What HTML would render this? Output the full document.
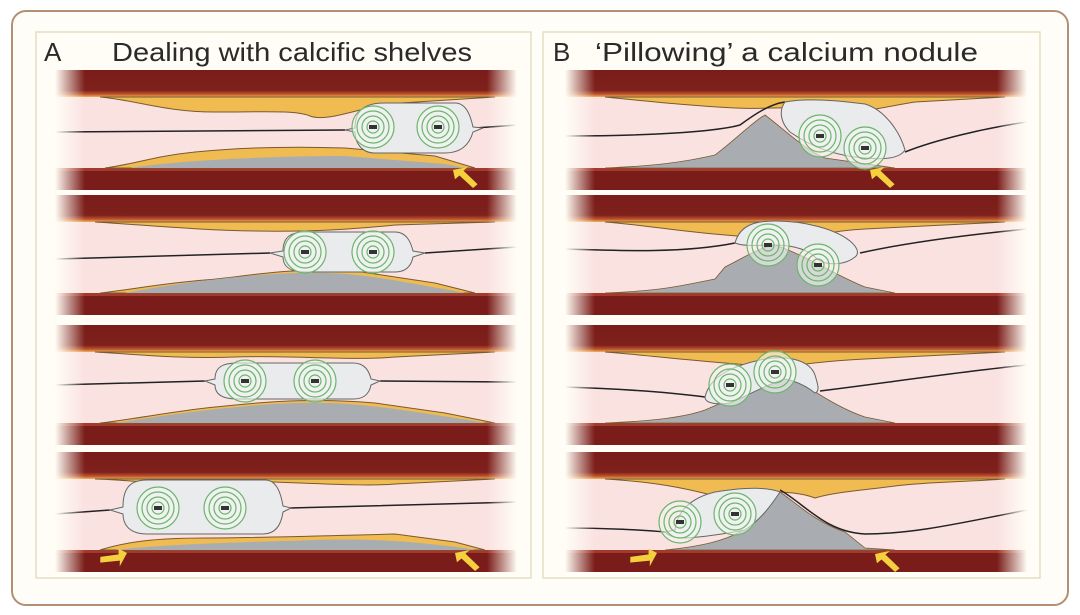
<!DOCTYPE html>
<html><head><meta charset="utf-8"><style>
html,body{margin:0;padding:0;background:#fff;width:1080px;height:615px;overflow:hidden}
svg{display:block}
text{font-family:"Liberation Sans",sans-serif;fill:#2a2a2a}
</style></head><body>
<svg width="1080" height="615" viewBox="0 0 1080 615" xmlns="http://www.w3.org/2000/svg">
<defs>
<linearGradient id="tw" x1="0" y1="0" x2="0" y2="1">
<stop offset="0" stop-color="#7a1c19"/><stop offset="0.75" stop-color="#7e211c"/><stop offset="0.9" stop-color="#c0572e"/><stop offset="1" stop-color="#f0b45a"/></linearGradient>
<linearGradient id="lf" x1="0" y1="0" x2="1" y2="0"><stop offset="0" stop-color="#fffdf5" stop-opacity="1"/><stop offset="1" stop-color="#fffdf5" stop-opacity="0"/></linearGradient>
<linearGradient id="rf" x1="1" y1="0" x2="0" y2="0"><stop offset="0" stop-color="#fffdf5" stop-opacity="1"/><stop offset="1" stop-color="#fffdf5" stop-opacity="0"/></linearGradient>
<symbol id="base" viewBox="0 0 462 120" width="462" height="120" overflow="visible">
<rect x="0" y="0" width="462" height="120" fill="#fae2e1"/>
<rect x="0" y="0" width="462" height="27" fill="url(#tw)"/>
<rect x="0" y="98" width="462" height="22" fill="#7a1c19"/>
<rect x="0" y="98" width="462" height="3" fill="#a33a2c"/>
</symbol>
<symbol id="fade" viewBox="0 0 462 120" width="462" height="120" overflow="visible">
<rect x="0" y="0" width="30" height="120" fill="url(#lf)"/>
<rect x="432" y="0" width="30" height="120" fill="url(#rf)"/>
</symbol>
<g id="rings">
<circle r="21" fill="#f3f6f2" fill-opacity="0.6" stroke="#6cb56a" stroke-width="1.2"/>
<circle r="16" fill="none" stroke="#6cb56a" stroke-width="1.2"/>
<circle r="11" fill="none" stroke="#6cb56a" stroke-width="1.2"/>
<circle r="6" fill="none" stroke="#6cb56a" stroke-width="1.2"/>
<rect x="-4" y="-2" width="8" height="4" fill="#333"/>
</g>
<g id="arrow"><path d="M0,0 L13,-8 L10,-3 L28,5 L25,10 L8,3 L5,8Z" fill="#f4d03f"/></g>
</defs>

<rect x="0" y="0" width="1080" height="615" fill="#fff"/>
<rect x="12" y="11" width="1056" height="594" rx="14" fill="#fffdf8" stroke="#b48f74" stroke-width="2"/>
<rect x="36" y="32" width="495" height="546" fill="#fffdf5" stroke="#ddd8b8" stroke-width="1.2"/>
<rect x="543" y="32" width="497" height="546" fill="#fffdf5" stroke="#ddd8b8" stroke-width="1.2"/>
<text x="44" y="61" font-size="26">A</text>
<text x="112" y="61" font-size="26" textLength="360" lengthAdjust="spacingAndGlyphs">Dealing with calcific shelves</text>
<text x="553" y="61" font-size="26">B</text>
<text x="595" y="61" font-size="26" textLength="383" lengthAdjust="spacingAndGlyphs">‘Pillowing’ a calcium nodule</text>

<!-- A1 -->
<g transform="translate(55,70)">
<use href="#base"/>
<path d="M45,27 C80,30 110,42 160,42 S240,40 255,46 S300,40 330,34 L440,27Z" fill="#f0bb50" stroke="#7a5a30" stroke-width="1"/>
<path d="M50,98 C80,94 100,86 140,82 S230,76 290,78 L380,86 L420,98Z" fill="#f0bb50" stroke="#7a5a30" stroke-width="1"/>
<path d="M75,98 C110,92 200,86 290,86 L390,94 L410,98Z" fill="#a9adb2"/>
<path d="M0,62 L290,60 M420,58 L462,55" stroke="#222" stroke-width="1.5" fill="none"/>
<path d="M290,60 L300,58 C300,40 310,33 330,33 L400,33 C412,33 416,48 418,57 L428,58 L418,62 C414,76 405,83 390,83 L320,83 C306,83 300,72 300,62Z" fill="#e9ebed" stroke="#666" stroke-width="1"/>
<use href="#rings" x="318" y="57"/><use href="#rings" x="383" y="57"/>
<use href="#arrow" transform="translate(398,100) rotate(20)"/>
<use href="#fade"/>
</g>
<!-- A2 -->
<g transform="translate(55,195)">
<use href="#base"/>
<path d="M40,27 C90,30 140,35 200,36 S300,34 340,30 L440,27Z" fill="#f0bb50" stroke="#7a5a30" stroke-width="1"/>
<path d="M45,98 C80,94 110,88 150,85 S230,72 300,76 L380,88 L420,98Z" fill="#f0bb50" stroke="#7a5a30" stroke-width="1"/>
<path d="M70,98 C110,90 180,80 240,78 S330,84 400,96 L410,98Z" fill="#a9adb2"/>
<path d="M0,64 L215,58 M370,58 L462,52" stroke="#222" stroke-width="1.5" fill="none"/>
<path d="M215,58 L228,56 C228,42 236,37 250,37 L340,37 C352,37 356,48 358,56 L370,58 L358,62 C356,72 350,77 340,77 L250,77 C236,77 228,72 228,62Z" fill="#e9ebed" stroke="#666" stroke-width="1"/>
<use href="#rings" x="250" y="57"/><use href="#rings" x="318" y="57"/>
<use href="#fade"/>
</g>
<!-- A3 -->
<g transform="translate(55,325)">
<use href="#base"/>
<path d="M40,27 C90,30 130,34 180,32 S300,36 340,32 L440,27Z" fill="#f0bb50" stroke="#7a5a30" stroke-width="1"/>
<path d="M45,98 C80,94 120,86 160,82 S250,72 320,78 L390,88 L440,98Z" fill="#f0bb50" stroke="#7a5a30" stroke-width="1"/>
<path d="M60,98 C110,90 180,80 240,78 S340,84 420,96 L430,98Z" fill="#a9adb2"/>
<path d="M0,60 L150,56 M325,56 L462,57" stroke="#222" stroke-width="1.5" fill="none"/>
<path d="M150,56 L160,54 C160,42 168,38 182,38 L298,38 C310,38 314,46 316,54 L325,56 L316,60 C314,70 308,74 298,74 L182,74 C168,74 160,70 160,60Z" fill="#e9ebed" stroke="#666" stroke-width="1"/>
<use href="#rings" x="190" y="56"/><use href="#rings" x="260" y="56"/>
<use href="#fade"/>
</g>
<!-- A4 -->
<g transform="translate(55,452)">
<use href="#base"/>
<path d="M40,27 C80,28 110,34 150,30 S300,36 340,32 L440,27Z" fill="#f0bb50" stroke="#7a5a30" stroke-width="1"/>
<path d="M45,98 C70,90 100,86 150,86 S260,84 340,82 L400,90 L430,98Z" fill="#f0bb50" stroke="#7a5a30" stroke-width="1"/>
<path d="M60,98 C110,92 200,90 260,88 S360,90 410,96 L420,98Z" fill="#a9adb2"/>
<path d="M0,62 L55,58 M235,56 L462,50" stroke="#222" stroke-width="1.5" fill="none"/>
<path d="M55,58 L68,55 C68,35 76,28 92,28 L210,28 C222,28 226,42 228,54 L236,56 L228,60 C226,74 220,82 208,82 L92,82 C76,82 68,74 68,62Z" fill="#e9ebed" stroke="#666" stroke-width="1"/>
<use href="#rings" x="103" y="56"/><use href="#rings" x="170" y="56"/>
<use href="#arrow" transform="translate(72,101) rotate(150)"/>
<use href="#arrow" transform="translate(400,101) rotate(20)"/>
<use href="#fade"/>
</g>

<!-- B1 -->
<g transform="translate(565,70)">
<use href="#base"/>
<path d="M40,27 C90,32 130,36 170,38 S230,34 250,42 S300,40 350,32 L440,27Z" fill="#f0bb50" stroke="#7a5a30" stroke-width="1"/>
<path d="M40,98 C90,96 120,92 150,85 C170,70 190,50 200,45 C220,60 240,80 260,88 L330,98Z" fill="#a9adb2" stroke="#7a5a30" stroke-width="0.8"/>
<path d="M0,66 C80,66 150,62 175,55 C190,44 205,34 220,32 M340,82 C370,70 420,58 462,52" stroke="#222" stroke-width="1.5" fill="none"/>
<path d="M220,32 C240,28 270,30 300,34 C320,40 335,62 340,80 C335,88 320,90 300,88 C270,86 245,76 225,62 C215,52 214,40 220,32Z" fill="#e9ebed" stroke="#666" stroke-width="1"/>
<use href="#rings" x="255" y="66"/><use href="#rings" x="300" y="78"/>
<use href="#arrow" transform="translate(305,100) rotate(20)"/>
<use href="#fade"/>
</g>
<!-- B2 -->
<g transform="translate(565,195)">
<use href="#base"/>
<path d="M40,27 C80,30 110,36 160,40 S220,44 230,50 C240,44 260,36 300,34 S380,30 440,27Z" fill="#f0bb50" stroke="#7a5a30" stroke-width="1"/>
<path d="M40,98 C90,96 110,92 130,88 L150,84 L160,72 C180,62 195,52 210,50 C240,60 270,80 300,92 L330,98Z" fill="#a9adb2" stroke="#7a5a30" stroke-width="0.8"/>
<path d="M0,54 C60,56 120,58 170,48 M295,58 C340,48 400,40 462,34" stroke="#222" stroke-width="1.5" fill="none"/>
<path d="M170,48 C175,30 190,26 210,26 C240,26 270,34 285,46 C292,52 295,58 290,62 C280,70 260,72 250,62 C240,52 220,50 210,50 C195,50 180,52 170,48Z" fill="#e9ebed" stroke="#666" stroke-width="1"/>
<use href="#rings" x="203" y="50"/><use href="#rings" x="253" y="70"/>
<use href="#fade"/>
</g>
<!-- B3 -->
<g transform="translate(565,325)">
<use href="#base"/>
<path d="M40,27 C80,30 110,34 160,38 S200,42 210,44 C230,40 260,36 300,34 S380,30 440,27Z" fill="#f0bb50" stroke="#7a5a30" stroke-width="1"/>
<path d="M40,98 C90,96 120,92 140,85 L170,72 C190,56 200,46 215,44 C240,60 270,82 300,92 L330,98Z" fill="#a9adb2" stroke="#7a5a30" stroke-width="0.8"/>
<path d="M0,62 C60,64 110,68 140,72 M255,66 C320,58 400,46 462,40" stroke="#222" stroke-width="1.5" fill="none"/>
<path d="M140,72 C145,50 170,40 200,34 C225,30 245,36 250,50 C253,60 255,66 250,68 C240,60 230,56 220,54 C200,60 180,72 165,78 C150,80 140,78 140,72Z" fill="#e9ebed" stroke="#666" stroke-width="1"/>
<use href="#rings" x="165" y="60"/><use href="#rings" x="210" y="47"/>
<use href="#fade"/>
</g>
<!-- B4 -->
<g transform="translate(565,452)">
<use href="#base"/>
<path d="M40,27 C90,30 120,36 150,44 L170,40 C200,40 230,38 250,46 C270,40 300,38 330,34 S400,30 440,27Z" fill="#f0bb50" stroke="#7a5a30" stroke-width="1"/>
<path d="M100,98 C140,94 160,88 175,80 C190,70 200,52 215,40 C230,50 250,70 280,80 L300,96 L330,98Z" fill="#a9adb2" stroke="#7a5a30" stroke-width="0.8"/>
<path d="M0,76 C40,76 80,78 100,80 M215,38 C240,52 260,80 300,82 C350,82 400,70 462,58" stroke="#222" stroke-width="1.5" fill="none"/>
<path d="M100,80 L110,78 C112,60 125,46 150,40 C175,36 200,34 215,40 C205,55 195,68 180,78 C160,82 130,86 118,86 C110,86 104,84 100,80Z" fill="#e9ebed" stroke="#666" stroke-width="1"/>
<use href="#rings" x="115" y="70"/><use href="#rings" x="170" y="62"/>
<use href="#arrow" transform="translate(92,101) rotate(150)"/>
<use href="#arrow" transform="translate(310,102) rotate(20)"/>
<use href="#fade"/>
</g>
</svg>
</body></html>
